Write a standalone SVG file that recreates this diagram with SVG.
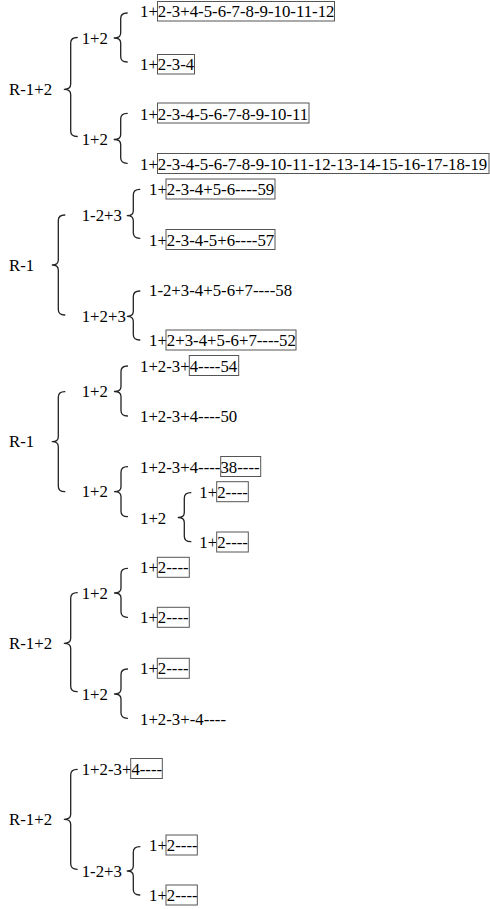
<svg xmlns="http://www.w3.org/2000/svg" width="490" height="909" viewBox="0 0 490 909">
<style>
text{font-family:"Liberation Serif","Times New Roman",serif;font-size:16.8px;fill:#000}
.b{fill:none;stroke:#222;stroke-width:1.3;stroke-linecap:round;stroke-linejoin:round}
.box{fill:none;stroke:#555;stroke-width:1}
</style>
<rect width="490" height="909" fill="#fff"/>
<g id="connectors">
<!-- section 1 -->
<path class="b" d="M77.2,37.5 Q70.7,37.5 70.7,43 L70.7,84 Q70.7,89.3 64.3,89.3 Q70.7,89.3 70.7,94.6 L70.7,131 Q70.7,136.5 77.2,136.5"/>
<path class="b" d="M127.2,13 Q120.7,13 120.7,18.5 L120.7,33 Q120.7,38 114.2,38 Q120.7,38 120.7,43 L120.7,56.5 Q120.7,62 127.2,62"/>
<path class="b" d="M127.2,113.3 Q120.7,113.3 120.7,118.8 L120.7,134.5 Q120.7,139.5 114.2,139.5 Q120.7,139.5 120.7,144.5 L120.7,157.8 Q120.7,163.3 127.2,163.3"/>
<!-- section 2 -->
<path class="b" d="M64.8,215 Q58.3,215 58.3,220.5 L58.3,260 Q58.3,265 52.3,265 Q58.3,265 58.3,270 L58.3,309.5 Q58.3,315 64.8,315"/>
<path class="b" d="M139.8,189.3 Q133.3,189.3 133.3,194.8 L133.3,210.7 Q133.3,215.7 127.3,215.7 Q133.3,215.7 133.3,220.7 L133.3,232.8 Q133.3,238.3 139.8,238.3"/>
<path class="b" d="M139.8,291 Q133.3,291 133.3,296.5 L133.3,311.3 Q133.3,316.3 127.3,316.3 Q133.3,316.3 133.3,321.3 L133.3,334.5 Q133.3,340 139.8,340"/>
<!-- section 3 -->
<path class="b" d="M64.8,391.7 Q58.3,391.7 58.3,397.2 L58.3,436.7 Q58.3,441.7 52.3,441.7 Q58.3,441.7 58.3,446.7 L58.3,486.2 Q58.3,491.7 64.8,491.7"/>
<path class="b" d="M127.5,366 Q121,366 121,371.5 L121,386.5 Q121,391.5 114.5,391.5 Q121,391.5 121,396.5 L121,410.5 Q121,416 127.5,416"/>
<path class="b" d="M127.5,466.7 Q121,466.7 121,472.2 L121,486.7 Q121,491.7 114.5,491.7 Q121,491.7 121,496.7 L121,511.2 Q121,516.7 127.5,516.7"/>
<path class="b" d="M190.8,492.7 Q184.3,492.7 184.3,498.2 L184.3,512.5 Q184.3,517.5 178.3,517.5 Q184.3,517.5 184.3,522.5 L184.3,536.2 Q184.3,541.7 190.8,541.7"/>
<!-- section 4 -->
<path class="b" d="M77.2,592.7 Q70.7,592.7 70.7,598.2 L70.7,638.3 Q70.7,643.3 64.3,643.3 Q70.7,643.3 70.7,648.3 L70.7,686.2 Q70.7,691.7 77.2,691.7"/>
<path class="b" d="M127.5,568.3 Q121,568.3 121,573.8 L121,588 Q121,593 114.5,593 Q121,593 121,598 L121,611.8 Q121,617.3 127.5,617.3"/>
<path class="b" d="M127.5,669 Q121,669 121,674.5 L121,689 Q121,694 114.5,694 Q121,694 121,699 L121,712.8 Q121,718.3 127.5,718.3"/>
<!-- section 5 -->
<path class="b" d="M77.2,769.3 Q70.7,769.3 70.7,774.8 L70.7,814.3 Q70.7,819.3 64.3,819.3 Q70.7,819.3 70.7,824.3 L70.7,863.8 Q70.7,869.3 77.2,869.3"/>
<path class="b" d="M139.8,846.7 Q133.3,846.7 133.3,852.2 L133.3,866 Q133.3,871 127.3,871 Q133.3,871 133.3,876 L133.3,889.5 Q133.3,895 139.8,895"/>
</g>
<!-- section 1 -->
<g id="s1-root"><text x="9" y="94.5">R-1+2</text></g>
<g id="s1-n1"><text x="81.7" y="43.5">1+2</text></g>
<g id="s1-n2"><text x="81.7" y="145">1+2</text></g>
<g id="s1-a"><text x="140" y="17">1+2-3+4-5-6-7-8-9-10-11-12</text><rect class="box" x="157.5" y="1.5" width="177" height="19.5"/></g>
<g id="s1-b"><text x="140" y="69.5">1+2-3-4</text><rect class="box" x="157.5" y="54.5" width="37" height="19.5"/></g>
<g id="s1-c"><text x="140" y="119.5">1+2-3-4-5-6-7-8-9-10-11</text><rect class="box" x="157.5" y="103" width="151.5" height="20"/></g>
<g id="s1-d"><text x="140" y="169.5">1+2-3-4-5-6-7-8-9-10-11-12-13-14-15-16-17-18-19</text><rect class="box" x="157.5" y="153.5" width="331.5" height="20"/></g>
<!-- section 2 -->
<g id="s2-root"><text x="9" y="270.5">R-1</text></g>
<g id="s2-n1"><text x="81.7" y="221">1-2+3</text></g>
<g id="s2-n2"><text x="81.7" y="321.5">1+2+3</text></g>
<g id="s2-a"><text x="149" y="195">1+2-3-4+5-6----59</text><rect class="box" x="166" y="179" width="109" height="20"/></g>
<g id="s2-b"><text x="149" y="245.5">1+2-3-4-5+6----57</text><rect class="box" x="166" y="229.5" width="109" height="20"/></g>
<g id="s2-c"><text x="149" y="296">1-2+3-4+5-6+7----58</text></g>
<g id="s2-d"><text x="149" y="346">1+2+3-4+5-6+7----52</text><rect class="box" x="166" y="330" width="130" height="20"/></g>
<!-- section 3 -->
<g id="s3-root"><text x="9" y="447">R-1</text></g>
<g id="s3-n1"><text x="81.7" y="397">1+2</text></g>
<g id="s3-n2"><text x="81.7" y="497">1+2</text></g>
<g id="s3-a"><text x="140" y="371.5">1+2-3+4----54</text><rect class="box" x="189.3" y="355.5" width="49.4" height="20"/></g>
<g id="s3-b"><text x="140" y="422">1+2-3+4----50</text></g>
<g id="s3-c"><text x="140" y="472.5">1+2-3+4----38----</text><rect class="box" x="220.7" y="456.5" width="40" height="20"/></g>
<g id="s3-n3"><text x="140" y="523.5">1+2</text></g>
<g id="s3-d"><text x="199.3" y="497.5">1+2----</text><rect class="box" x="216.7" y="481.7" width="31.6" height="20"/></g>
<g id="s3-e"><text x="199.3" y="548">1+2----</text><rect class="box" x="216.7" y="532" width="31.6" height="20"/></g>
<!-- section 4 -->
<g id="s4-root"><text x="9" y="648.5">R-1+2</text></g>
<g id="s4-n1"><text x="81.7" y="598.5">1+2</text></g>
<g id="s4-n2"><text x="81.7" y="699.5">1+2</text></g>
<g id="s4-a"><text x="140" y="573">1+2----</text><rect class="box" x="157.3" y="557.3" width="32" height="20"/></g>
<g id="s4-b"><text x="140" y="623">1+2----</text><rect class="box" x="157.3" y="607.3" width="32" height="20"/></g>
<g id="s4-c"><text x="140" y="674">1+2----</text><rect class="box" x="157.3" y="658.3" width="32" height="20"/></g>
<g id="s4-d"><text x="140" y="724.5">1+2-3+-4----</text></g>
<!-- section 5 -->
<g id="s5-root"><text x="9" y="824.5">R-1+2</text></g>
<g id="s5-a"><text x="81.7" y="775">1+2-3+4----</text><rect class="box" x="130.7" y="758.5" width="31.6" height="20"/></g>
<g id="s5-n1"><text x="81.7" y="877">1-2+3</text></g>
<g id="s5-b"><text x="149" y="851">1+2----</text><rect class="box" x="166" y="835" width="31.3" height="20"/></g>
<g id="s5-c"><text x="149" y="901">1+2----</text><rect class="box" x="166" y="885" width="31.3" height="20"/></g>
</svg>
